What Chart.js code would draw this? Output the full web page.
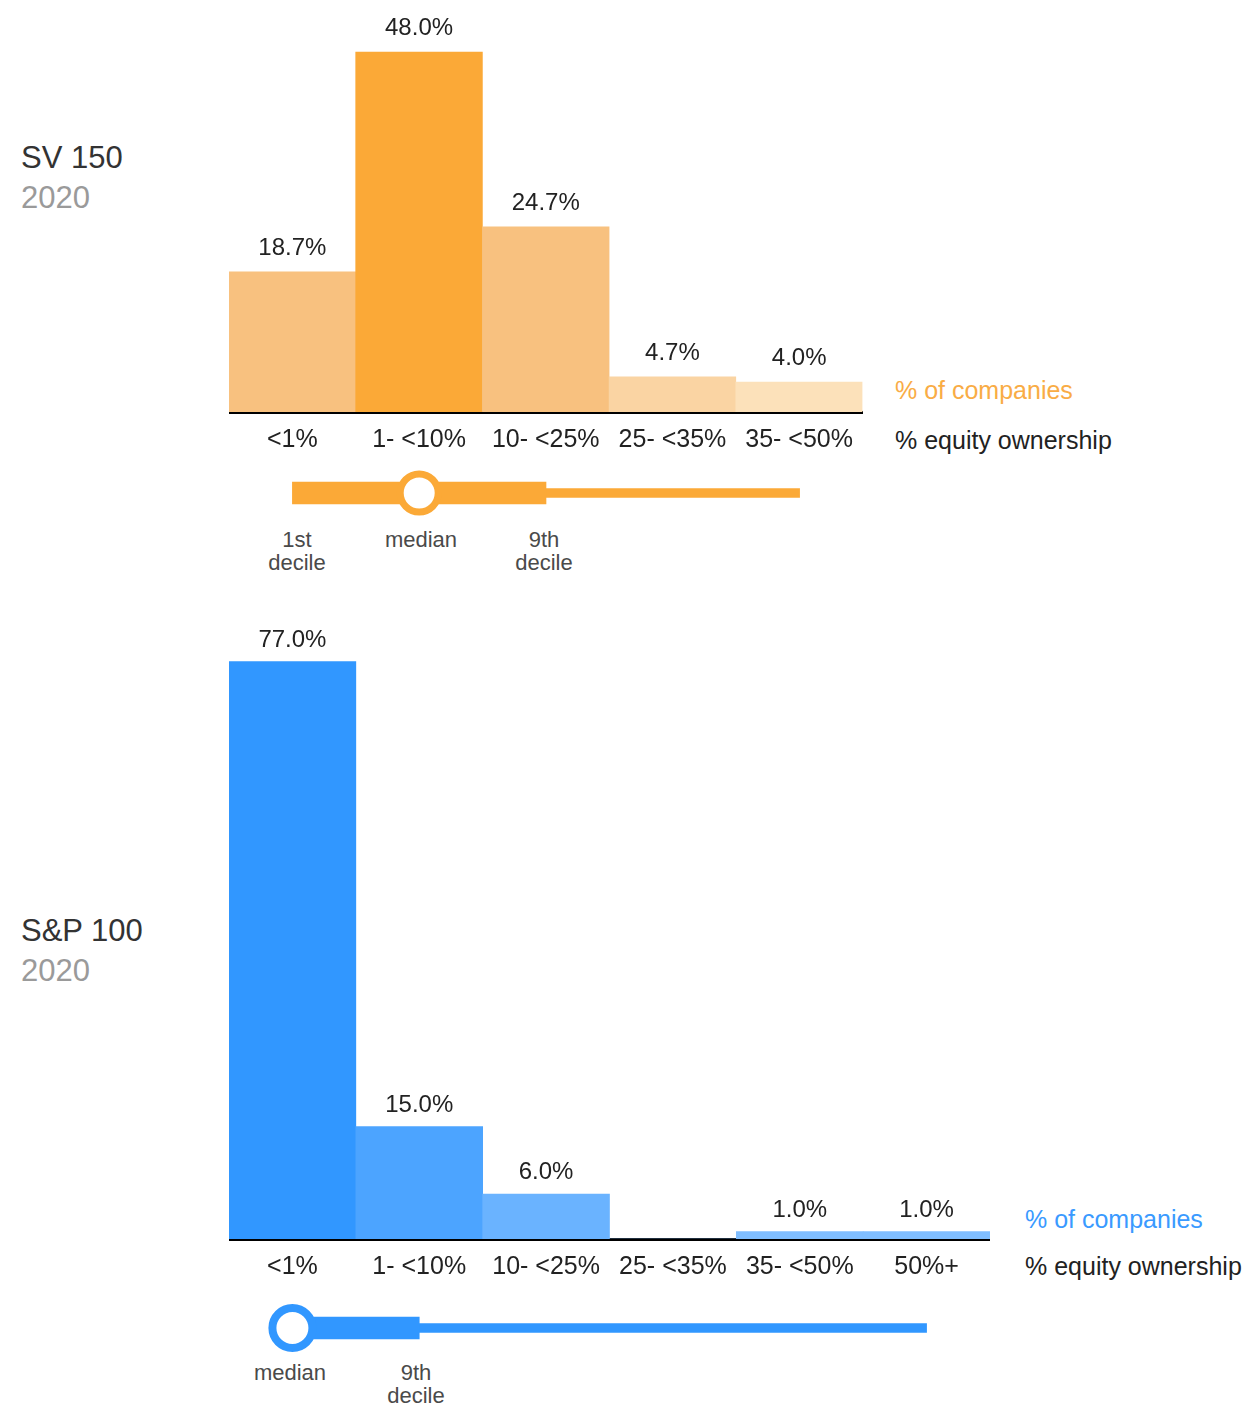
<!DOCTYPE html>
<html>
<head>
<meta charset="utf-8">
<script src="https://cdn.jsdelivr.net/npm/chart.js@4/dist/chart.umd.min.js"></script>
<style>
  html, body { margin: 0; padding: 0; background: #fff; }
  body { width: 1248px; height: 1405px; position: relative; overflow: hidden;
         font-family: "Liberation Sans", Arial, sans-serif; }
  .abs { position: absolute; white-space: nowrap; }
  .title { font-size: 31px; line-height: 1; color: #333; }
  .year { font-size: 31px; line-height: 1; color: #9a9a9a; }
  .axlab { font-size: 25px; line-height: 1; color: #222; }
  .dec { font-size: 22px; line-height: 23px; color: #4a4a4a; text-align: center; width: 140px; }
  canvas { position: absolute; }
</style>
</head>
<body>
<!-- Panel titles -->
<div class="abs title" style="left:21px; top:142px;">SV 150</div>
<div class="abs year" style="left:21px; top:182px;">2020</div>
<div class="abs title" style="left:21px; top:915px;">S&amp;P 100</div>
<div class="abs year" style="left:21px; top:955px;">2020</div>

<!-- axis captions -->
<div class="abs axlab" style="left:895px; top:378px; color:#F9AC45;">% of companies</div>
<div class="abs axlab" style="left:895px; top:428px;">% equity ownership</div>
<div class="abs axlab" style="left:1025px; top:1207px; color:#3A9AFF;">% of companies</div>
<div class="abs axlab" style="left:1025px; top:1254px;">% equity ownership</div>

<!-- decile labels -->
<div class="abs dec" style="left:227px; top:528px;">1st<br>decile</div>
<div class="abs dec" style="left:351px; top:528px;">median</div>
<div class="abs dec" style="left:474px; top:528px;">9th<br>decile</div>
<div class="abs dec" style="left:220px; top:1361px;">median</div>
<div class="abs dec" style="left:346px; top:1361px;">9th<br>decile</div>

<canvas id="svBars" style="left:229px; top:0px;" width="637" height="462"></canvas>
<canvas id="svRange" style="left:229px; top:463px;" width="634" height="60"></canvas>
<canvas id="spBars" style="left:229px; top:600px;" width="761" height="689"></canvas>
<canvas id="spRange" style="left:229px; top:1298px;" width="761" height="60"></canvas>

<script>
// ---------- DATA ----------
const svCategories = ['<1%', '1- <10%', '10- <25%', '25- <35%', '35- <50%'];
const svValues = [18.7, 48.0, 24.7, 4.7, 4.0];
const spCategories = ['<1%', '1- <10%', '10- <25%', '25- <35%', '35- <50%', '50%+'];
const spValues = [77.0, 15.0, 6.0, 0, 1.0, 1.0];

// decile markers, expressed as bucket index on the ownership axis
const svDecileBand = [0, 2];   // 1st decile -> 9th decile
const svWhisker = [2, 4];      // 9th decile -> max
const svMedian = [1];
const spDecileBand = [0, 1];   // median -> 9th decile
const spWhisker = [1, 5];
const spMedian = [0];

// ---------- STYLES ----------
const svColors = ['#F8C17F', '#FBA937', '#F8C17F', '#FAD4A3', '#FCE1BA'];
const spColors = ['#3197FF', '#4CA4FF', '#6AB3FF', '#80BEFF', '#80BEFF', '#80BEFF'];
const orange = '#FBA937';
const blue = '#3197FF';
const FONT = '"Liberation Sans", Arial, sans-serif';

const valueLabels = {
  id: 'valueLabels',
  afterDatasetsDraw(chart, args, opts) {
    const ctx = chart.ctx;
    const meta = chart.getDatasetMeta(0);
    const data = chart.data.datasets[0].data;
    ctx.save();
    ctx.font = '24px ' + FONT;
    ctx.fillStyle = '#222';
    ctx.textAlign = 'center';
    ctx.textBaseline = 'alphabetic';
    meta.data.forEach((el, i) => {
      const v = data[i];
      if (!v) return;
      ctx.fillText(v.toFixed(1) + '%', el.x, el.y - opts.gap);
    });
    ctx.restore();
  }
};

function barChart(id, labels, values, colors, yMax, padTop, gap) {
  return new Chart(document.getElementById(id), {
    type: 'bar',
    data: {
      labels: labels,
      datasets: [{
        data: values,
        backgroundColor: colors,
        borderWidth: 0,
        barPercentage: 1,
        categoryPercentage: 1
      }]
    },
    options: {
      responsive: false,
      animation: false,
      events: [],
      layout: { padding: { top: padTop, left: 0, right: 0, bottom: 0 }, autoPadding: false },
      plugins: { legend: { display: false }, tooltip: { enabled: false }, valueLabels: { gap: gap } },
      scales: {
        x: {
          type: 'category',
          offset: true,
          grid: { display: false, drawTicks: false },
          border: { display: true, color: '#000', width: 3 },
          ticks: { color: '#222', font: { size: 25, family: FONT }, padding: 13, maxRotation: 0, autoSkip: false },
          afterFit(scale) { scale.height = 50; }
        },
        y: {
          display: false,
          min: 0,
          max: yMax
        }
      }
    },
    plugins: [valueLabels]
  });
}

function rangeChart(id, band, whisker, median, color, xMax, radius, ring) {
  return new Chart(document.getElementById(id), {
    type: 'bar',
    data: {
      labels: ['range'],
      datasets: [
        { type: 'bar', data: [whisker], backgroundColor: color, barThickness: 9, grouped: false, order: 3, borderWidth: 0 },
        { type: 'bar', data: [band], backgroundColor: color, barThickness: 22, grouped: false, order: 2, borderWidth: 0 },
        { type: 'scatter', data: median.map(m => ({ x: m, y: 'range' })), pointRadius: radius,
          pointBorderWidth: ring, pointBackgroundColor: '#fff', pointBorderColor: color, showLine: false, order: 1, clip: false }
      ]
    },
    options: {
      indexAxis: 'y',
      responsive: false,
      animation: false,
      events: [],
      layout: { padding: 0, autoPadding: false },
      plugins: { legend: { display: false }, tooltip: { enabled: false } },
      scales: {
        x: { type: 'linear', min: -0.5, max: xMax, display: false },
        y: { type: 'category', labels: ['range'], display: false, offset: true }
      }
    }
  });
}

barChart('svBars', svCategories, svValues, svColors, 50, 37, 17);
rangeChart('svRange', svDecileBand, svWhisker, svMedian, orange, svCategories.length - 0.5, 19, 7);
barChart('spBars', spCategories, spValues, spColors, 80, 39, 15);
rangeChart('spRange', spDecileBand, spWhisker, spMedian, blue, spCategories.length - 0.5, 20, 8);
</script>
</body>
</html>
